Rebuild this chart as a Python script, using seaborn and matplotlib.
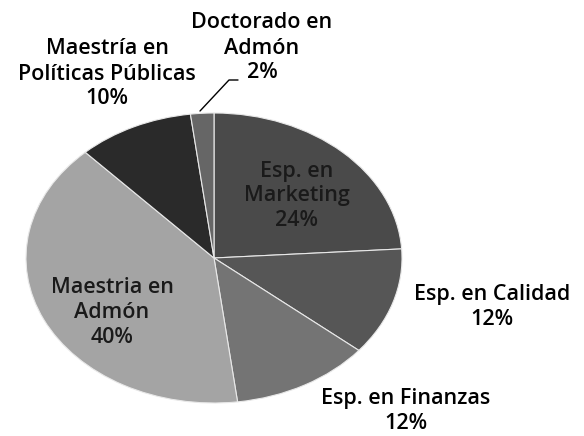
import matplotlib
matplotlib.use("Agg")
import matplotlib.pyplot as plt
import seaborn as sns
from matplotlib.lines import Line2D

# ---- data ----
categories = ["Esp. en\nMarketing", "Esp. en Calidad", "Esp. en Finanzas",
              "Maestria en\nAdmón", "Maestría en\nPolíticas Públicas", "Doctorado en\nAdmón"]
values = [24, 12, 12, 40, 10, 2]
colors = ["#4a4a4a", "#565656", "#747474", "#a4a4a4", "#2a2a2a", "#666666"]

sns.set_theme(style="white")
plt.rcParams['font.family'] = ['Open Sans', 'DejaVu Sans']

W, H = 584, 436
fig = plt.figure(figsize=(W / 100, H / 100), dpi=100)
fig.patch.set_facecolor("white")

# pie ellipse in pixel space: center (214, 258), rx 188, ry 145
cx, cy, rx, ry = 214, 258, 188, 145
ax = fig.add_axes([(cx - rx) / W, 1 - (cy + ry) / H, 2 * rx / W, 2 * ry / H])
wedges, _ = ax.pie(values, startangle=90, counterclock=False, colors=colors,
                   wedgeprops=dict(edgecolor="#e8e8e8", linewidth=0.8))
ax.set_aspect("auto")
ax.set_xlim(-1, 1)
ax.set_ylim(-1, 1)
ax.axis("off")

def fx(x):
    return x / W

def fy(y):
    return 1 - y / H

label_pos = [(297, 196), (492, 307), (406, 411), (112, 312), (107, 74), (262, 48)]
inside = [True, False, False, True, False, False]
for cat, val, (px, py), ins in zip(categories, values, label_pos, inside):
    fig.text(fx(px), fy(py), f"{cat}\n{val}%", ha="center", va="center",
             fontsize=15.5, fontweight="semibold", linespacing=1.25,
             color="#1a1a1a" if ins else "black")

# leader line for Doctorado
fig.add_artist(Line2D([fx(200), fx(229), fx(238)], [fy(111), fy(80), fy(80)],
                      transform=fig.transFigure, color="black", linewidth=1.0))

fig.savefig("out.png", dpi=100, facecolor="white")
